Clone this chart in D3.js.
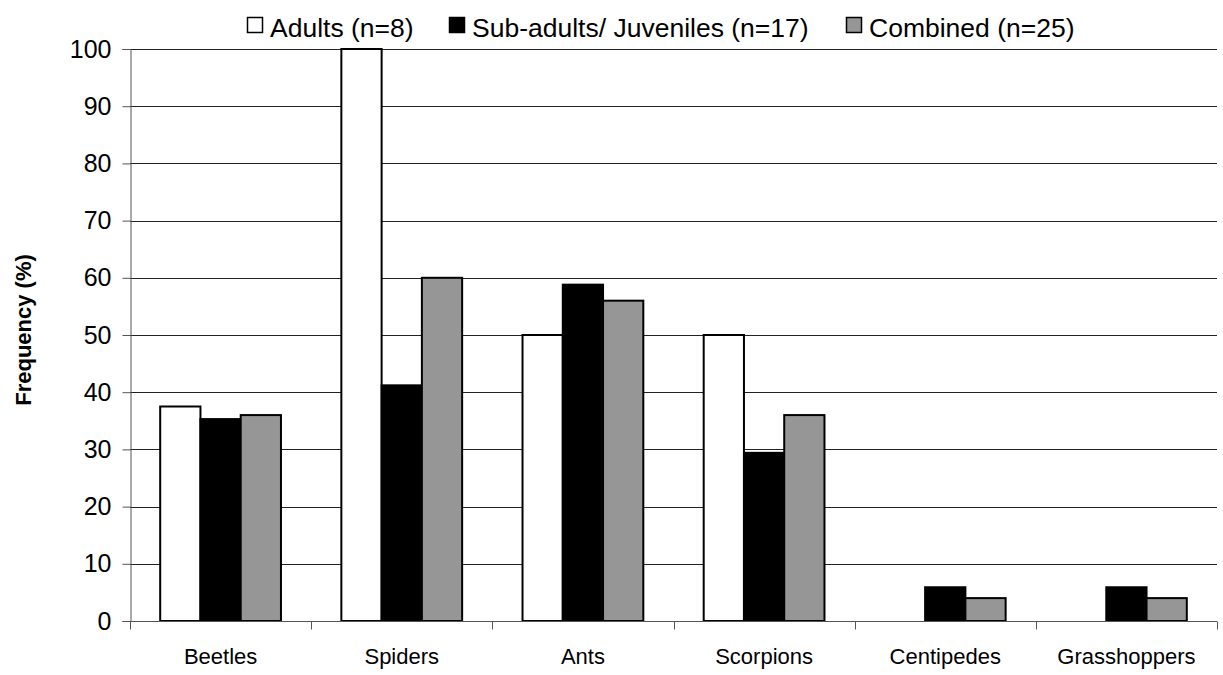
<!DOCTYPE html>
<html>
<head>
<meta charset="utf-8">
<script src="https://cdn.jsdelivr.net/npm/d3@7"></script>
<style>
  html, body { margin: 0; padding: 0; background: #fff; }
  svg { display: block; font-family: "Liberation Sans", Arial, sans-serif; }
</style>
</head>
<body>
<svg id="chart" width="1223" height="675"></svg>
<script>
// Prey categories and frequency of occurrence (%) per age group
const categories = ["Beetles", "Spiders", "Ants", "Scorpions", "Centipedes", "Grasshoppers"];
const seriesNames = ["Adults (n=8)", "Sub-adults/ Juveniles (n=17)", "Combined (n=25)"];
const adults = [37.5, 100, 50, 50, 0, 0];
const juveniles = [35.3, 41.2, 58.8, 29.4, 5.9, 5.9];
const combined = [36, 60, 56, 36, 4, 4];
const yTicks = [0, 10, 20, 30, 40, 50, 60, 70, 80, 90, 100];
const fills = ["#ffffff", "#000000", "#969696"];

const seriesValues = [adults, juveniles, combined];

const svg = d3.select("#chart");
const plot = { left: 130, right: 1217, top: 49, bottom: 621 };

const y = d3.scaleLinear().domain([0, 100]).range([plot.bottom, plot.top]);
const x0 = d3.scaleBand().domain(categories).range([plot.left, plot.right]).padding(0);
const bw = x0.bandwidth();
// three bars fill the middle of each category, leaving a 150% gap
const barW = bw / 4.5;
const x1 = d3.scaleBand().domain(d3.range(seriesNames.length))
  .range([0.75 * barW, 3.75 * barW]).padding(0);

// horizontal gridlines
svg.append("g")
  .selectAll("line")
  .data(yTicks.filter(d => d > 0))
  .join("line")
  .attr("x1", plot.left).attr("x2", plot.right)
  .attr("y1", d => Math.round(y(d)) + 0.5).attr("y2", d => Math.round(y(d)) + 0.5)
  .attr("stroke", "#222").attr("stroke-width", 1);

// bars
const groups = svg.append("g")
  .selectAll("g")
  .data(categories)
  .join("g")
  .attr("transform", d => `translate(${x0(d)},0)`);

groups.selectAll("rect")
  .data((c, i) => seriesValues.map((vals, s) => ({ s, v: vals[i] })).filter(d => d.v > 0))
  .join("rect")
  .attr("x", d => x1(d.s))
  .attr("width", x1.bandwidth())
  .attr("y", d => y(d.v))
  .attr("height", d => y(0) - y(d.v))
  .attr("fill", d => fills[d.s])
  .attr("stroke", "#000")
  .attr("stroke-width", 2);

// y axis
const yAxis = d3.axisLeft(y).tickValues(yTicks).tickSize(8).tickPadding(11).tickFormat(d3.format("d"));
const gy = svg.append("g").attr("transform", `translate(${plot.left + 0.5},0)`).call(yAxis);
gy.select(".domain").attr("stroke", "#555").attr("stroke-width", 1);
gy.selectAll(".tick line").attr("stroke", "#555");
gy.selectAll(".tick text").attr("font-size", 25).attr("fill", "#000")
  .attr("font-family", "'Liberation Sans', Arial, sans-serif");

// x axis with ticks between categories
const gx = svg.append("g").attr("transform", `translate(0,${plot.bottom + 0.5})`);
gx.append("line").attr("x1", plot.left).attr("x2", plot.right)
  .attr("stroke", "#555").attr("stroke-width", 1);
gx.selectAll("line.sep")
  .data(d3.range(categories.length + 1))
  .join("line").attr("class", "sep")
  .attr("x1", i => Math.round(plot.left + i * bw) + 0.5)
  .attr("x2", i => Math.round(plot.left + i * bw) + 0.5)
  .attr("y1", 0).attr("y2", 8)
  .attr("stroke", "#555");
gx.selectAll("text")
  .data(categories)
  .join("text")
  .attr("x", d => x0(d) + bw / 2)
  .attr("y", 42)
  .attr("text-anchor", "middle")
  .attr("font-size", 22)
  .attr("fill", "#000")
  .text(d => d);

// y axis title
svg.append("text")
  .attr("transform", "translate(31,330) rotate(-90)")
  .attr("text-anchor", "middle")
  .attr("font-size", 22)
  .attr("font-weight", "bold")
  .attr("fill", "#000")
  .text("Frequency (%)");

// legend
const legendX = [247, 449, 846];
const legend = svg.append("g")
  .selectAll("g")
  .data(seriesNames)
  .join("g")
  .attr("transform", (d, i) => `translate(${legendX[i]},0)`);
legend.append("rect")
  .attr("x", 0.5).attr("y", 17.5).attr("width", 15).attr("height", 15)
  .attr("fill", (d, i) => fills[i]).attr("stroke", "#000").attr("stroke-width", 1.5);
legend.append("text")
  .attr("x", 23).attr("y", 37)
  .attr("font-size", 26.5)
  .attr("fill", "#000")
  .text(d => d);
</script>
</body>
</html>
